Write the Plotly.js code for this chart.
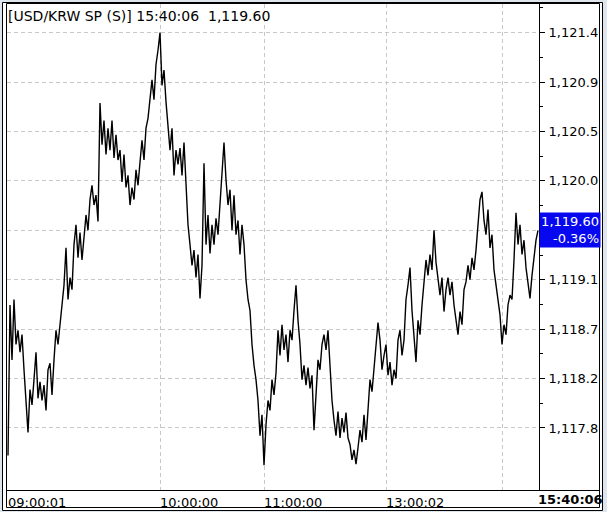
<!DOCTYPE html>
<html>
<head>
<meta charset="utf-8">
<script src="https://cdn.plot.ly/plotly-3.0.1.min.js"></script>
<style>html,body{margin:0;padding:0;background:#fff;}#chart{width:607px;height:512px;}</style>
</head>
<body>
<div id="chart"></div>
<script>
// ---- data ----
const titleText = '[USD/KRW SP (S)]';
const lastTime = '15:40:06';
const lastPrice = 1119.60;
const changePct = -0.36;
const tickIndex = [0, 76, 128, 189, 247];
const tickLabels = ['09:00:01', '10:00:00', '11:00:00', '13:00:02', ''];
const priceTicks = [1117.80, 1118.25, 1118.70, 1119.15, 1119.60, 1120.05, 1120.50, 1120.95, 1121.40];
const prices = [
1117.55,1118.92,1118.42,1118.97,1118.56,1118.69,1118.49,1118.65,1118.33,1118.05,
1117.76,1118.15,1118.01,1118.24,1118.49,1118.07,1118.22,1118.05,1118.19,1117.96,
1118.33,1118.39,1118.10,1118.42,1118.69,1118.56,1118.76,1118.92,1119.10,1119.44,
1118.97,1119.17,1119.06,1119.47,1119.65,1119.35,1119.58,1119.33,1119.56,1119.74,
1119.60,1119.88,1120.01,1119.83,1119.92,1119.68,1120.76,1120.38,1120.60,1120.29,
1120.53,1120.33,1120.60,1120.26,1120.47,1120.24,1120.33,1120.04,1120.29,1119.99,
1120.10,1119.83,1119.99,1119.88,1120.15,1120.01,1120.22,1120.42,1120.24,1120.53,
1120.62,1120.83,1120.97,1120.79,1121.11,1121.24,1121.40,1120.92,1121.06,1120.77,
1120.56,1120.33,1120.53,1120.10,1120.33,1120.20,1120.35,1120.10,1120.40,1119.97,
1119.65,1119.47,1119.28,1119.42,1119.17,1119.38,1118.98,1119.28,1120.21,1119.47,
1119.74,1119.39,1119.65,1119.47,1119.71,1119.56,1119.88,1120.15,1120.40,1120.06,
1119.83,1119.97,1119.60,1119.92,1119.56,1119.69,1119.38,1119.65,1119.47,1119.15,
1118.97,1118.87,1118.56,1118.37,1118.24,1118.05,1117.73,1117.92,1117.46,1117.83,
1118.05,1117.96,1118.24,1118.10,1118.30,1118.69,1118.46,1118.74,1118.51,1118.65,
1118.40,1118.69,1118.60,1118.87,1119.10,1118.78,1118.56,1118.24,1118.37,1118.19,
1118.35,1118.16,1118.28,1117.78,1118.10,1118.42,1118.33,1118.56,1118.65,1118.51,
1118.69,1118.37,1118.05,1117.87,1117.73,1117.95,1117.71,1117.89,1117.76,1117.94,
1117.71,1117.65,1117.51,1117.60,1117.47,1117.62,1117.78,1117.67,1117.92,1117.69,
1118.01,1118.24,1118.13,1118.35,1118.56,1118.76,1118.60,1118.33,1118.46,1118.56,
1118.28,1118.40,1118.19,1118.33,1118.25,1118.60,1118.69,1118.46,1118.60,1118.97,
1119.10,1119.26,1118.87,1118.65,1118.40,1118.78,1118.65,1118.92,1119.15,1119.33,
1119.19,1119.38,1119.24,1119.60,1119.31,1119.15,1119.01,1119.17,1118.86,1119.06,
1119.17,1119.01,1119.13,1118.92,1118.78,1118.65,1118.86,1118.74,1119.06,1119.13,
1119.28,1119.15,1119.35,1119.24,1119.42,1119.65,1119.88,1119.95,1119.69,1119.56,
1119.79,1119.44,1119.56,1119.24,1119.10,1118.97,1118.83,1118.56,1118.74,1118.65,
1118.92,1119.01,1118.97,1119.33,1119.76,1119.47,1119.65,1119.38,1119.51,1119.26,
1119.10,1118.98,1119.19,1119.38,1119.51,1119.60
];
const xIndex = prices.map((_, i) => i);

// ---- layout geometry (pixels) ----
const W = 607, H = 512;
const L = 7, R = 539, T = 4, B = 490;
const px = x => (x - L) / (R - L);
const py = y => (B - y) / (B - T);
const FONT = 'DejaVu Sans';
const fmt = v => v.toLocaleString('en-US', {minimumFractionDigits: 2, maximumFractionDigits: 2});

const trace = {
  x: xIndex, y: prices, type: 'scatter', mode: 'lines',
  line: {color: '#000000', width: 1.4}, hoverinfo: 'skip', showlegend: false
};

const grid = {gridcolor: '#c8c8c8', griddash: '4px,3px', gridwidth: 1};

layoutTickText = priceTicks.map(v => (Math.abs(v - lastPrice) < 1e-6 ? '' : fmt(v)));

const layout = {
  width: W, height: H,
  margin: {l: L, r: W - R, t: T, b: H - B, pad: 0},
  paper_bgcolor: '#dfe5ec',
  plot_bgcolor: '#ffffff',
  font: {family: FONT, size: 13, color: '#000'},
  showlegend: false,
  title: {
    text: titleText + ' ' + lastTime + '  ' + fmt(lastPrice),
    font: {family: FONT, size: 14, color: '#000'},
    xref: 'container', yref: 'container',
    x: 8 / W, xanchor: 'left', y: 1 - 16 / H, yanchor: 'middle'
  },
  xaxis: Object.assign({
    range: [-0.5, prices.length - 0.5],
    tickmode: 'array', tickvals: tickIndex, ticktext: tickLabels,
    ticks: '', showgrid: true, zeroline: false, showline: false,
    ticklabelposition: 'outside right', ticklabelstandoff: 3,
    tickfont: {family: FONT, size: 13, color: '#000'}, fixedrange: true
  }, grid),
  yaxis: Object.assign({
    side: 'right',
    range: [1117.235, 1121.661],
    tickmode: 'array', tickvals: priceTicks, ticktext: layoutTickText,
    ticks: 'outside', ticklen: 5, tickcolor: '#000', tickwidth: 1,
    ticklabelstandoff: 1,
    minor: {tickmode: 'array', tickvals: priceTicks.map(v => v + 0.225), ticks: 'outside', ticklen: 3, tickcolor: '#000', showgrid: false},
    showline: true, linecolor: '#000', linewidth: 1, zeroline: false,
    tickfont: {family: FONT, size: 13, color: '#000'}, fixedrange: true
  }, grid),
  shapes: [
    {type: 'rect', xref: 'paper', yref: 'paper', layer: 'below',
     x0: px(2.5), x1: px(602.5), y0: py(510.5), y1: py(2.5),
     fillcolor: '#ffffff', line: {color: '#000', width: 1}},
    {type: 'rect', xref: 'paper', yref: 'paper', layer: 'above',
     x0: px(6.5), x1: px(599.5), y0: py(507.5), y1: py(3.5),
     fillcolor: 'rgba(0,0,0,0)', line: {color: '#000', width: 1}},
    {type: 'rect', xref: 'paper', yref: 'paper', layer: 'above',
     x0: px(600), x1: px(602), y0: py(507), y1: py(3),
     fillcolor: '#ffffff', line: {width: 0}},
    {type: 'rect', xref: 'paper', yref: 'paper', layer: 'above',
     x0: px(603), x1: px(607), y0: py(512), y1: py(0),
     fillcolor: '#dfe5ec', line: {width: 0}},
    {type: 'line', xref: 'paper', yref: 'paper', layer: 'above',
     x0: px(6.5), x1: px(599.5), y0: py(490.5), y1: py(490.5),
     line: {color: '#000', width: 1}}
  ],
  annotations: [
    {xref: 'paper', yref: 'y', x: 1, y: lastPrice, xanchor: 'left', yanchor: 'middle',
     text: fmt(lastPrice) + '<br>' + (changePct < 0 ? '-' : '+') + Math.abs(changePct).toFixed(2) + '%',
     showarrow: false, align: 'right', bgcolor: '#0808f0', borderpad: 1, width: 58,
     font: {family: FONT, size: 13, color: '#ffffff'}},
    {xref: 'paper', yref: 'paper', x: px(570), y: py(499), xanchor: 'center', yanchor: 'middle',
     text: '<b>' + lastTime + '</b>', showarrow: false,
     font: {family: FONT, size: 13, color: '#000'}}
  ]
};

Plotly.newPlot('chart', [trace], layout, {staticPlot: true, displayModeBar: false});
</script>
</body>
</html>
